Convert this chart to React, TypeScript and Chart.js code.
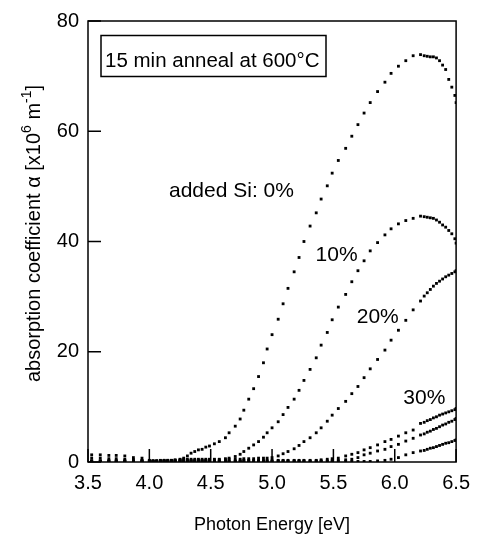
import React, { useEffect, useRef } from "react";
import { Chart, registerables } from "chart.js";

Chart.register(...registerables);

// Photon energy grid [eV]
const energy = [
  3.53, 3.6, 3.67, 3.73, 3.8, 3.87, 3.94, 4.0, 4.03, 4.06, 4.09, 4.12, 4.15, 4.18, 4.21,
  4.25, 4.28, 4.31, 4.34, 4.37, 4.4, 4.43, 4.46, 4.49, 4.53, 4.57, 4.62, 4.65, 4.7, 4.74,
  4.77, 4.81, 4.85, 4.89, 4.93, 4.96, 5.0, 5.05, 5.09, 5.13, 5.18, 5.22, 5.26, 5.31, 5.36,
  5.4, 5.45, 5.49, 5.54, 5.6, 5.65, 5.7, 5.75, 5.8, 5.86, 5.92, 5.97, 6.03, 6.09, 6.15,
  6.21, 6.24, 6.265, 6.29, 6.315, 6.34, 6.365, 6.39, 6.415, 6.44, 6.465, 6.49, 6.5,
];

// absorption coefficient [x10^6 m^-1]
const alphaSi0 = [
  1.3, 1.3, 1.2, 1.2, 1.1, 0.8, 0.7, 0.3, 0.2, 0.2, 0.2, 0.2, 0.2, 0.2, 0.3,
  0.4, 0.7, 1.1, 1.6, 1.9, 2.2, 2.3, 2.7, 2.9, 3.3, 3.7, 4.4, 5.3, 6.5, 7.8,
  9.4, 11.4, 13.3, 15.5, 18.0, 20.5, 23.1, 25.9, 28.7, 31.5, 34.5, 37.1, 40.0, 42.8, 45.2,
  47.7, 50.1, 52.4, 54.7, 56.9, 59.1, 61.2, 63.3, 65.2, 67.2, 68.9, 70.5, 71.8, 72.8, 73.7,
  73.9, 73.7, 73.6, 73.5, 73.5, 73.3, 72.8, 72.0, 71.2, 69.4, 68.0, 66.5, 65.2,
];
const alphaSi10 = [
  0.7, 0.7, 0.6, 0.6, 0.5, 0.4, 0.3, 0.2, 0.2, 0.2, 0.2, 0.3, 0.3, 0.3, 0.4,
  0.5, 0.5, 0.5, 0.5, 0.5, 0.5, 0.5, 0.5, 0.5, 0.5, 0.5, 0.6, 0.7, 1.0, 1.4,
  1.9, 2.5, 3.1, 3.7, 4.5, 5.3, 6.2, 7.3, 8.6, 9.9, 11.4, 13.0, 14.8, 16.8, 18.9,
  21.2, 23.5, 25.8, 28.1, 30.4, 32.7, 34.7, 36.5, 38.3, 39.8, 41.2, 42.3, 43.2, 43.8, 44.2,
  44.6, 44.5, 44.4, 44.3, 44.2, 43.9, 43.5, 43.0, 42.6, 42.0, 41.4, 40.5, 39.7,
];
const alphaSi20 = [
  0.2, 0.2, 0.2, 0.2, 0.2, 0.2, 0.2, 0.2, 0.2, 0.2, 0.3, 0.3, 0.3, 0.3, 0.3,
  0.3, 0.3, 0.3, 0.3, 0.3, 0.3, 0.3, 0.3, 0.4, 0.4, 0.4, 0.4, 0.5, 0.5, 0.5,
  0.6, 0.6, 0.6, 0.7, 0.7, 0.7, 0.8, 1.1, 1.5, 1.9, 2.4, 3.0, 3.7, 4.4, 5.3,
  6.2, 7.4, 8.5, 9.7, 11.0, 12.4, 13.7, 15.3, 16.9, 18.6, 20.3, 22.1, 23.9, 25.7, 27.6,
  29.2, 30.1, 30.7, 31.3, 31.9, 32.4, 32.8, 33.2, 33.6, 33.9, 34.2, 34.5, 34.7,
];
const alphaSi30a = [
  0.2, 0.2, 0.2, 0.2, 0.2, 0.2, 0.2, 0.1, 0.1, 0.1, 0.1, 0.1, 0.1, 0.1, 0.1,
  0.2, 0.2, 0.2, 0.2, 0.2, 0.2, 0.2, 0.2, 0.2, 0.2, 0.2, 0.2, 0.2, 0.2, 0.2,
  0.3, 0.3, 0.3, 0.3, 0.3, 0.3, 0.3, 0.3, 0.3, 0.3, 0.3, 0.3, 0.3, 0.3, 0.3,
  0.4, 0.5, 0.6, 0.7, 1.1, 1.4, 1.7, 2.2, 2.6, 3.1, 3.7, 4.1, 4.7, 5.3, 5.8,
  7.0, 7.2, 7.5, 7.7, 8.0, 8.2, 8.5, 8.7, 8.9, 9.1, 9.3, 9.5, 9.7,
];
const alphaSi30b = [
  0.1, 0.1, 0.1, 0.1, 0.1, 0.1, 0.1, 0.1, 0.1, 0.1, 0.1, 0.1, 0.1, 0.1, 0.1,
  0.1, 0.1, 0.1, 0.1, 0.1, 0.1, 0.1, 0.1, 0.1, 0.1, 0.1, 0.1, 0.1, 0.1, 0.1,
  0.1, 0.1, 0.1, 0.1, 0.1, 0.1, 0.2, 0.2, 0.2, 0.2, 0.2, 0.2, 0.2, 0.2, 0.2,
  0.2, 0.2, 0.2, 0.3, 0.4, 0.5, 0.8, 1.3, 1.6, 2.0, 2.3, 2.8, 3.2, 3.8, 4.3,
  4.9, 5.1, 5.4, 5.6, 5.9, 6.1, 6.4, 6.7, 6.9, 7.2, 7.4, 7.7, 7.9,
];
const alphaSi30c = [
  0.0, 0.0, 0.0, 0.0, 0.0, 0.0, 0.0, 0.0, 0.0, 0.0, 0.0, 0.0, 0.0, 0.0, 0.0,
  0.0, 0.0, 0.0, 0.0, 0.0, 0.0, 0.0, 0.0, 0.0, 0.0, 0.0, 0.0, 0.0, 0.0, 0.0,
  0.0, 0.0, 0.0, 0.0, 0.0, 0.0, 0.1, 0.1, 0.1, 0.1, 0.1, 0.1, 0.1, 0.1, 0.1,
  0.1, 0.1, 0.1, 0.1, 0.1, 0.1, 0.1, 0.1, 0.1, 0.2, 0.3, 0.5, 0.8, 1.3, 1.7,
  2.0, 2.1, 2.3, 2.5, 2.6, 2.8, 3.0, 3.2, 3.4, 3.5, 3.7, 3.9, 4.0,
];

const seriesNames = ["0%", "10%", "20%", "30% a", "30% b", "30% c"];
const seriesValues = [alphaSi0, alphaSi10, alphaSi20, alphaSi30a, alphaSi30b, alphaSi30c];

const xTicks = [3.5, 4.0, 4.5, 5.0, 5.5, 6.0, 6.5];
const yTicks = [0, 20, 40, 60, 80];

// text labels anchored in data units (energy, alpha)
const curveLabels = [
  { text: "added Si: 0%", x: 4.16, y: 48.1 },
  { text: "10%", x: 5.355, y: 36.4 },
  { text: "20%", x: 5.69, y: 25.2 },
  { text: "30%", x: 6.07, y: 10.6 },
];
const boxText = "15 min anneal at 600°C";
const xTitle = "Photon Energy [eV]";

const FONT = '"Liberation Sans", Arial, Helvetica, sans-serif';

const decorPlugin = {
  id: "decor",
  afterDraw(chart: any) {
    const { ctx, chartArea: a } = chart;
    const xs = chart.scales.x;
    const ys = chart.scales.y;
    ctx.save();
    ctx.strokeStyle = "#000";
    ctx.fillStyle = "#000";
    ctx.lineWidth = 1.5;
    // frame
    ctx.strokeRect(a.left, a.top, a.right - a.left, a.bottom - a.top);
    // inward ticks
    const TL = 13;
    ctx.beginPath();
    for (const v of xTicks) {
      const px = xs.getPixelForValue(v);
      ctx.moveTo(px, a.bottom);
      ctx.lineTo(px, a.bottom - TL);
    }
    for (const v of yTicks) {
      const py = ys.getPixelForValue(v);
      ctx.moveTo(a.left, py);
      ctx.lineTo(a.left + TL, py);
    }
    ctx.stroke();

    // annotation box
    ctx.font = `20.5px ${FONT}`;
    ctx.textBaseline = "alphabetic";
    ctx.textAlign = "left";
    const bx = a.left + 13;
    const by = a.top + 14.5;
    ctx.lineWidth = 1.5;
    ctx.strokeRect(bx, by, 225, 41);
    ctx.fillText(boxText, bx + 4, by + 31);

    // curve labels
    ctx.font = `21px ${FONT}`;
    for (const l of curveLabels) {
      ctx.fillText(l.text, xs.getPixelForValue(l.x), ys.getPixelForValue(l.y));
    }

    // x title
    ctx.font = `18px ${FONT}`;
    ctx.textAlign = "center";
    ctx.fillText(xTitle, (a.left + a.right) / 2, 530);

    // y title with superscripts
    const parts = [
      { t: "absorption coefficient α [x10", sup: false },
      { t: "6", sup: true },
      { t: " m", sup: false },
      { t: "-1", sup: true },
      { t: "]", sup: false },
    ];
    const mainFont = `20px ${FONT}`;
    const supFont = `14px ${FONT}`;
    let total = 0;
    const widths = parts.map((p) => {
      ctx.font = p.sup ? supFont : mainFont;
      const w = ctx.measureText(p.t).width;
      total += w;
      return w;
    });
    ctx.translate(40, (a.top + a.bottom) / 2 - 8);
    ctx.rotate(-Math.PI / 2);
    ctx.textAlign = "left";
    let cx = -total / 2;
    parts.forEach((p, i) => {
      ctx.font = p.sup ? supFont : mainFont;
      ctx.fillText(p.t, cx, p.sup ? -9 : 0);
      cx += widths[i];
    });
    ctx.restore();
  },
};

export default function App() {
  const ref = useRef<HTMLCanvasElement | null>(null);

  useEffect(() => {
    if (!ref.current) return;
    const datasets = seriesValues.map((vals, i) => ({
      label: seriesNames[i],
      data: energy.map((e, j) => ({ x: e, y: vals[j] })),
      showLine: false,
      pointStyle: "rect",
      pointRadius: 2,
      pointBorderWidth: 0,
      backgroundColor: "#000",
      borderColor: "#000",
    }));
    const chart = new Chart(ref.current, {
      type: "scatter",
      data: { datasets },
      options: {
        animation: false,
        responsive: false,
        devicePixelRatio: 1,
        layout: { padding: { left: 0, top: 18, right: 22, bottom: 0 } },
        plugins: { legend: { display: false }, tooltip: { enabled: false } },
        scales: {
          x: {
            type: "linear",
            min: 3.5,
            max: 6.5,
            afterBuildTicks: (s: any) => {
              s.ticks = xTicks.map((v) => ({ value: v }));
            },
            afterFit: (s: any) => {
              s.height = 80;
            },
            grid: { display: false, drawTicks: false },
            border: { display: false },
            ticks: {
              padding: 9,
              color: "#000",
              font: { family: FONT, size: 20 },
              maxRotation: 0,
              callback: (v: any) => Number(v).toFixed(1),
            },
          },
          y: {
            type: "linear",
            min: 0,
            max: 80,
            afterBuildTicks: (s: any) => {
              s.ticks = yTicks.map((v) => ({ value: v }));
            },
            afterFit: (s: any) => {
              s.width = 88;
            },
            grid: { display: false, drawTicks: false },
            border: { display: false },
            ticks: {
              padding: 9,
              color: "#000",
              font: { family: FONT, size: 20 },
              callback: (v: any) => String(v),
            },
          },
        },
      },
      plugins: [decorPlugin],
    } as any);
    return () => chart.destroy();
  }, []);

  return (
    <div style={{ position: "fixed", left: 0, top: 0, width: 479, height: 542, background: "#fff" }}>
      <canvas ref={ref} width={479} height={542} style={{ display: "block" }} />
    </div>
  );
}
